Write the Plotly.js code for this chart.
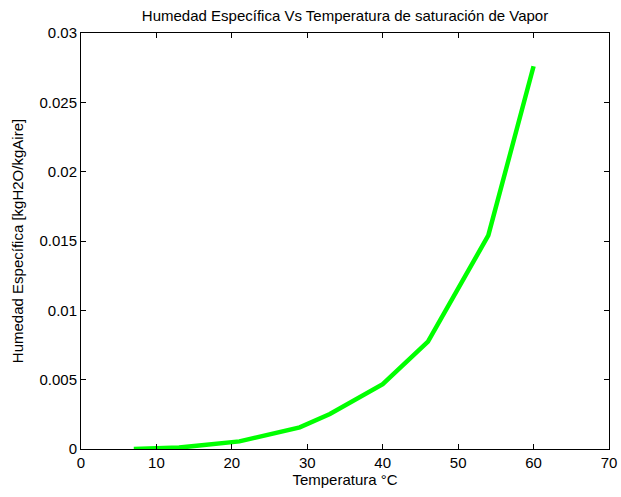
<!DOCTYPE html>
<html>
<head>
<meta charset="utf-8">
<script src="https://cdn.plot.ly/plotly-3.0.1.min.js"></script>
<style>
  html, body { margin: 0; padding: 0; background: #fff; }
  #chart { width: 621px; height: 497px; }
</style>
</head>
<body>
<div id="chart"></div>
<script>
// Saturation temperature (°C) and specific humidity (kg H2O / kg air)
const temperatura = [7, 13, 21, 29, 33, 40, 46, 54, 60];
const humedad = [0.0000, 0.0001, 0.00055, 0.00156, 0.00252, 0.00468, 0.00775, 0.0154, 0.0276];

const xTicks = [0, 10, 20, 30, 40, 50, 60, 70];
const yTicks = [0, 0.005, 0.01, 0.015, 0.02, 0.025, 0.03];
const yTickText = ['0', '0.005', '0.01', '0.015', '0.02', '0.025', '0.03'];

const font = { family: 'Liberation Sans, Arial, sans-serif', size: 15, color: '#000' };

const trace = {
  x: temperatura,
  y: humedad,
  type: 'scatter',
  mode: 'lines',
  line: { color: '#00ff00', width: 4.5 },
  hoverinfo: 'x+y'
};

const axisCommon = {
  showgrid: false,
  zeroline: false,
  showline: true,
  linecolor: '#000',
  linewidth: 1,
  mirror: 'ticks',
  ticks: 'inside',
  ticklen: 5,
  tickcolor: '#000',
  tickfont: font
};

const layout = {
  width: 621,
  height: 497,
  margin: { l: 81, r: 12, t: 33, b: 48 },
  paper_bgcolor: '#fff',
  plot_bgcolor: '#fff',
  font: font,
  showlegend: false,
  title: {
    text: 'Humedad Específica Vs Temperatura de saturación de Vapor',
    font: font,
    x: 0.5, xref: 'paper', xanchor: 'center',
    y: 1, yref: 'paper', yanchor: 'bottom', pad: { b: 12 }
  },
  xaxis: Object.assign({}, axisCommon, {
    range: [0, 70],
    tickvals: xTicks,
    ticktext: xTicks.map(String),
    title: { text: 'Temperatura °C', font: font, standoff: 2 }
  }),
  yaxis: Object.assign({}, axisCommon, {
    range: [0, 0.03],
    tickvals: yTicks,
    ticktext: yTickText,
    title: { text: 'Humedad Específica [kgH2O/kgAire]', font: font, standoff: 12 }
  })
};

Plotly.newPlot('chart', [trace], layout, { displayModeBar: false, staticPlot: true });
</script>
</body>
</html>
